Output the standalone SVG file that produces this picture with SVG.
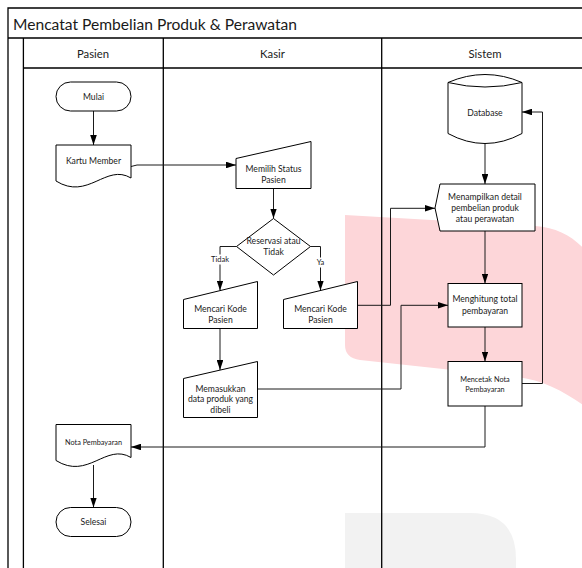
<svg xmlns="http://www.w3.org/2000/svg" width="582" height="568" viewBox="0 0 582 568">
<style>
  .shape{fill:#ffffff;stroke:#000000;stroke-width:1}
  .lane{fill:none;stroke:#000000;stroke-width:1.3}
  .conn{fill:none;stroke:#1a1a1a;stroke-width:1}
  .arr{marker-end:url(#arrow)}
  text{font-family:Lato,"Liberation Sans",sans-serif;fill:#1a1a1a;text-anchor:middle}
  .t9{font-size:8.6px}
  .t8{font-size:7.3px}
  .lbl{font-size:7.5px}
  .hdr{font-size:11.3px}
  .title{font-size:15.6px;text-anchor:start}
</style>
<defs>
  <marker id="arrow" viewBox="0 0 10 6.6" refX="10" refY="3.3" markerWidth="10" markerHeight="6.6" markerUnits="userSpaceOnUse" orient="auto">
    <path d="M0,0 L10,3.3 L0,6.6 Z" fill="#000000"/>
  </marker>
</defs>
<rect x="0" y="0" width="582" height="568" fill="#ffffff"/>

<g id="watermark">
  <path d="M345,215 L535,226 C560,228 575,238 590,255 L590,410 C570,395 545,380 517,377 L360,360 Q345,358 345,345 Z" fill="#fdd6d9"/>
  <path d="M345,568 V513 H470 Q516,513 516,559 V568 Z" fill="#f2f2f2"/>
</g>

<g id="pool">
  <path class="lane" d="M8,568 V8 H582 M8,38 H582 M23.4,38 V568 M23.4,68 H582 M163.3,38 V568 M381.7,38 V568"/>
  <text class="title" x="13" y="29.5">Mencatat Pembelian Produk &amp; Perawatan</text>
  <text class="hdr" x="93" y="58">Pasien</text>
  <text class="hdr" x="272.5" y="58">Kasir</text>
  <text class="hdr" x="485" y="58">Sistem</text>
</g>

<g id="connectors">
  <path class="conn arr" d="M93.5,111 V145"/>
  <path class="conn arr" d="M131,166.5 L137,165 H236"/>
  <path class="conn arr" d="M273.5,188.5 V218.5"/>
  <path class="conn arr" d="M236.5,246.5 H220 V290.5"/>
  <path class="conn arr" d="M310.5,246.5 H320.5 V290.5"/>
  <path class="conn arr" d="M220,328.5 V370"/>
  <path class="conn arr" d="M357.5,305.3 H390.5 V208.3 H435"/>
  <path class="conn arr" d="M257.5,389 H401 V305.3 H448"/>
  <path class="conn arr" d="M485,143.5 V184"/>
  <path class="conn arr" d="M485,231 V283.5"/>
  <path class="conn arr" d="M485,327 V361.5"/>
  <path class="conn arr" d="M522,383.5 H542.5 V112 H522"/>
  <path class="conn arr" d="M485,406 V447 H131"/>
  <path class="conn arr" d="M93.5,465 V507.5"/>
  <rect x="210.5" y="254.5" width="19" height="10" fill="#ffffff"/>
  <text class="lbl" x="220" y="262">Tidak</text>
  <rect x="314.5" y="257.5" width="12" height="10" fill="#ffffff"/>
  <text class="lbl" x="320.5" y="265.3">Ya</text>
</g>

<g id="node-mulai">
  <rect class="shape" x="56" y="82" width="75" height="29" rx="14.5" ry="14.5"/>
  <text class="t9" x="93.5" y="99.8">Mulai</text>
</g>

<g id="node-kartu-member">
  <path class="shape" d="M56,145 H131 V178 C106,163 88,201 56,181 Z"/>
  <text class="t9" x="93.5" y="163.8">Kartu Member</text>
</g>

<g id="node-memilih-status">
  <path class="shape" d="M236,158.5 L311,141.5 L311,188.5 L236,188.5 Z"/>
  <text class="t9" x="273.5" y="172.2">Memilih Status</text>
  <text class="t9" x="273.5" y="182.5">Pasien</text>
</g>

<g id="node-reservasi">
  <path class="shape" d="M273.5,218.5 L310.5,246.5 L273.5,275 L236.5,246.5 Z"/>
  <text class="t9" x="273.5" y="244.2">Reservasi atau</text>
  <text class="t9" x="273.5" y="254.9">Tidak</text>
</g>

<g id="node-mencari-kode-tidak">
  <path class="shape" d="M183.5,299.5 L257.5,281.5 L257.5,328.5 L183.5,328.5 Z"/>
  <text class="t9" x="220.5" y="312.2">Mencari Kode</text>
  <text class="t9" x="220.5" y="323.2">Pasien</text>
</g>

<g id="node-mencari-kode-ya">
  <path class="shape" d="M283.5,299.5 L357.5,281.5 L357.5,328.5 L283.5,328.5 Z"/>
  <text class="t9" x="320.5" y="312.2">Mencari Kode</text>
  <text class="t9" x="320.5" y="323.2">Pasien</text>
</g>

<g id="node-memasukkan">
  <path class="shape" d="M183.5,378.5 L257.5,361.5 L257.5,417.5 L183.5,417.5 Z"/>
  <text class="t9" x="220.5" y="391.9">Memasukkan</text>
  <text class="t9" x="220.5" y="402.3">data produk yang</text>
  <text class="t9" x="220.5" y="412.5">dibeli</text>
</g>

<g id="node-nota-pembayaran">
  <path class="shape" d="M56,424.5 H131 V457.5 C106,442.5 88,480.5 56,460.5 Z"/>
  <text class="t8" x="93.5" y="444.8">Nota Pembayaran</text>
</g>

<g id="node-selesai">
  <rect class="shape" x="56" y="507.5" width="75" height="29" rx="14.5" ry="14.5"/>
  <text class="t9" x="93.5" y="525.2">Selesai</text>
</g>

<g id="node-database">
  <path class="shape" d="M448,82.5 Q485,66.5 522,82.5 V133.5 Q485,153.5 448,133.5 Z"/>
  <path class="shape" d="M448,82.5 Q485,91.5 522,82.5" fill="none"/>
  <text class="t9" x="485" y="115.6">Database</text>
</g>

<g id="node-menampilkan">
  <path class="shape" d="M440,184 H535 V231 H440 L435,208 Z"/>
  <text class="t9" x="485" y="199.8">Menampilkan detail</text>
  <text class="t9" x="485" y="211.1">pembelian produk</text>
  <text class="t9" x="485" y="222.4">atau perawatan</text>
</g>

<g id="node-menghitung">
  <rect class="shape" x="448" y="283.5" width="74" height="43.5"/>
  <text class="t9" x="485" y="302.4">Menghitung total</text>
  <text class="t9" x="485" y="314.1">pembayaran</text>
</g>

<g id="node-mencetak">
  <rect class="shape" x="448" y="361.5" width="74" height="44.5"/>
  <text class="t8" x="485" y="381.9">Mencetak Nota</text>
  <text class="t8" x="485" y="391.9">Pembayaran</text>
</g>
</svg>
